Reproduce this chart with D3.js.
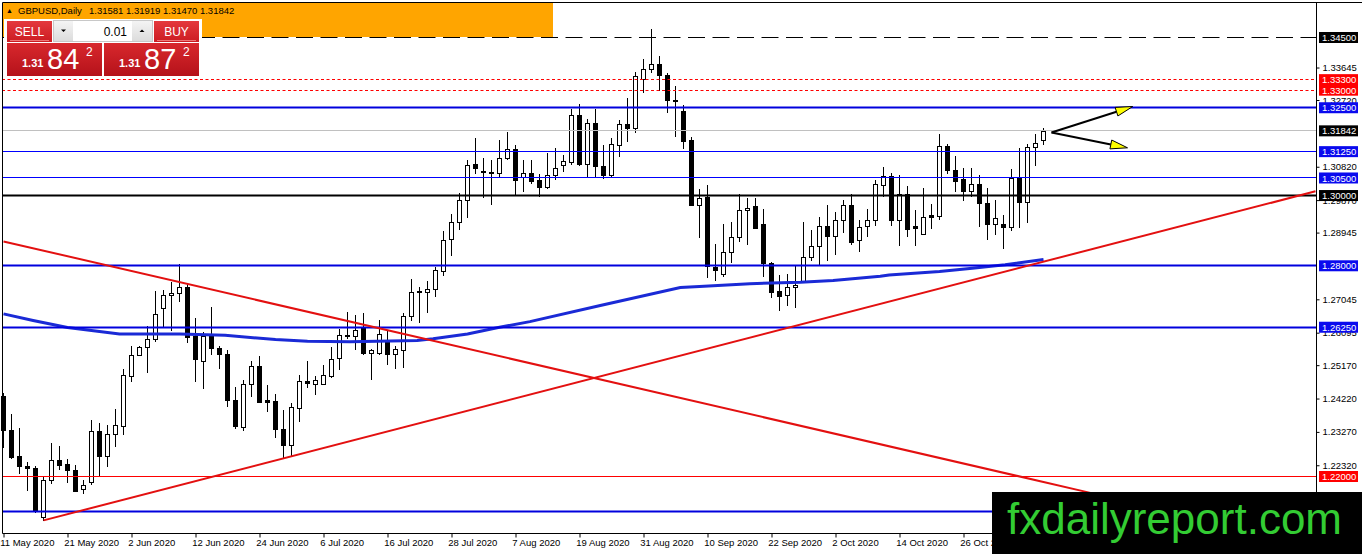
<!DOCTYPE html>
<html>
<head>
<meta charset="utf-8">
<script src="https://cdn.jsdelivr.net/npm/d3@7"></script>
<style>
body { margin: 0; background: #fff; }
#chart { width: 1362px; height: 554px; overflow: hidden; }
text { font-family: "Liberation Sans", Arial, sans-serif; }
</style>
</head>
<body>
<div id="chart"></div>
<script>
var symbol = "GBPUSD,Daily";

// daily OHLC, 11 May 2020 .. 9 Nov 2020
var opens = [1.2430,1.2331,1.2257,1.2231,1.2225,1.2084,1.2191,1.2247,1.2236,1.2219,
    1.2164,1.2184,1.2330,1.2258,1.2320,1.2343,1.2486,1.2547,1.2568,1.2592,
    1.2680,1.2717,1.2722,1.2741,1.2599,1.2528,1.2602,1.2566,1.2549,1.2418,
    1.2341,1.2464,1.2515,1.2417,1.2414,1.2334,1.2291,1.2395,1.2473,1.2464,
    1.2464,1.2486,1.2537,1.2603,1.2599,1.2627,1.2553,1.2551,1.2583,1.2550,
    1.2561,1.2656,1.2729,1.2725,1.2734,1.2784,1.2877,1.2924,1.2988,1.3089,
    1.3071,1.3068,1.3065,1.3106,1.3133,1.3052,1.3065,1.3043,1.3024,1.3059,
    1.3088,1.3095,1.3230,1.3090,1.3207,1.3084,1.3059,1.3144,1.3204,1.3192,
    1.3332,1.3361,1.3375,1.3342,1.3273,1.3242,1.3157,1.2974,1.2997,1.2796,
    1.2777,1.2839,1.2881,1.2959,1.2969,1.2919,1.2807,1.2727,1.2717,1.2741,
    1.2756,1.2825,1.2856,1.2914,1.2884,1.2929,1.2972,1.2872,1.2912,1.2931,
    1.3030,1.3055,1.2931,1.3005,1.2912,1.2891,1.2944,1.2943,1.3140,1.3073,
    1.3048,1.3013,1.3033,1.2979,1.2920,1.2920,1.2910,1.3050,1.2981,1.3138,
    1.31581];
var highs = [1.2437,1.2377,1.2339,1.2241,1.2229,1.2200,1.2296,1.2288,1.2250,1.2233,
    1.2191,1.2362,1.2353,1.2348,1.2393,1.2505,1.2573,1.2573,1.2628,1.2728,
    1.2731,1.2753,1.2806,1.2749,1.2652,1.2611,1.2684,1.2573,1.2559,1.2456,
    1.2475,1.2530,1.2542,1.2461,1.2434,1.2388,1.2409,1.2489,1.2528,1.2485,
    1.2518,1.2568,1.2620,1.2667,1.2661,1.2665,1.2564,1.2646,1.2614,1.2573,
    1.2665,1.2763,1.2741,1.2756,1.2796,1.2899,1.2948,1.3007,1.3100,1.3164,
    1.3107,1.3102,1.3157,1.3180,1.3145,1.3100,1.3100,1.3062,1.3121,1.3136,
    1.3116,1.3245,1.3261,1.3218,1.3245,1.3144,1.3163,1.3214,1.3278,1.3351,
    1.3389,1.3475,1.3396,1.3349,1.3312,1.3259,1.3168,1.3019,1.3031,1.2863,
    1.2918,1.2924,1.3003,1.2993,1.2993,1.2962,1.2810,1.2775,1.2777,1.2798,
    1.2926,1.2902,1.2940,1.2974,1.2953,1.2988,1.3003,1.2929,1.2962,1.3043,
    1.3081,1.3065,1.3059,1.3027,1.2960,1.3021,1.2976,1.3174,1.3147,1.3114,
    1.3078,1.3078,1.3059,1.3021,1.2986,1.2945,1.3076,1.3136,1.3147,1.3174,
    1.31919];
var lows = [1.2284,1.2253,1.2210,1.2162,1.2099,1.2075,1.2181,1.2222,1.2184,1.2158,
    1.2152,1.2179,1.2203,1.2231,1.2286,1.2320,1.2473,1.2545,1.2497,1.2587,
    1.2625,1.2616,1.2701,1.2583,1.2471,1.2453,1.2548,1.2509,1.2400,1.2338,
    1.2331,1.2429,1.2412,1.2386,1.2312,1.2253,1.2260,1.2357,1.2456,1.2434,
    1.2464,1.2484,1.2506,1.2595,1.2564,1.2549,1.2478,1.2549,1.2519,1.2510,
    1.2513,1.2646,1.2640,1.2668,1.2714,1.2775,1.2832,1.2905,1.2939,1.3064,
    1.2997,1.2976,1.3052,1.3103,1.3005,1.3013,1.3036,1.2998,1.3022,1.3046,
    1.3069,1.3090,1.3088,1.3057,1.3052,1.3050,1.3053,1.3112,1.3154,1.3180,
    1.3294,1.3351,1.3301,1.3237,1.3169,1.3135,1.2974,1.2882,1.2768,1.2760,
    1.2770,1.2810,1.2870,1.2863,1.2907,1.2770,1.2711,1.2673,1.2687,1.2682,
    1.2756,1.2817,1.2801,1.2817,1.2834,1.2896,1.2861,1.2842,1.2886,1.2915,
    1.3000,1.2915,1.2860,1.2884,1.2860,1.2891,1.2907,1.2934,1.3065,1.3014,
    1.2988,1.3000,1.2913,1.2877,1.2891,1.2851,1.2903,1.2910,1.2924,1.3086,
    1.31470];
var closes = [1.2331,1.2255,1.2229,1.2224,1.2105,1.2191,1.2247,1.2233,1.2219,1.2158,
    1.2177,1.2330,1.2258,1.2320,1.2348,1.2488,1.2547,1.2568,1.2592,1.2663,
    1.2717,1.2723,1.2741,1.2597,1.2535,1.2599,1.2565,1.2549,1.2418,1.2343,
    1.2464,1.2515,1.2412,1.2411,1.2334,1.2291,1.2397,1.2473,1.2466,1.2475,
    1.2488,1.2535,1.2603,1.2599,1.2618,1.2551,1.2560,1.2606,1.2550,1.2564,
    1.2657,1.2725,1.2725,1.2734,1.2788,1.2874,1.2924,1.2988,1.3088,1.3078,
    1.3067,1.3064,1.3106,1.3133,1.3045,1.3065,1.3040,1.3024,1.3059,1.3079,
    1.3097,1.3230,1.3090,1.3207,1.3084,1.3059,1.3147,1.3204,1.3192,1.3340,
    1.3361,1.3375,1.3342,1.3272,1.3269,1.3155,1.2974,1.2994,1.2798,1.2789,
    1.2839,1.2881,1.2959,1.2965,1.2907,1.2807,1.2725,1.2715,1.2741,1.2744,
    1.2825,1.2856,1.2914,1.2884,1.2929,1.2974,1.2867,1.2910,1.2931,1.3033,
    1.3055,1.2931,1.3005,1.2905,1.2907,1.2940,1.2938,1.3140,1.3073,1.3040,
    1.3012,1.3033,1.2978,1.2918,1.2937,1.2910,1.3050,1.2981,1.3138,1.3150,
    1.31842];

var dateLabels = ["11 May 2020","21 May 2020","2 Jun 2020","12 Jun 2020","24 Jun 2020",
    "6 Jul 2020","16 Jul 2020","28 Jul 2020","7 Aug 2020","19 Aug 2020","31 Aug 2020",
    "10 Sep 2020","22 Sep 2020","2 Oct 2020","14 Oct 2020","26 Oct 2020"];
var barsPerLabel = 8;

var priceTicks = [1.33645,1.32720,1.30820,1.29870,1.28945,
    1.27045,1.26095,1.25170,1.24220,1.23270,1.22320];

// horizontal levels: price, colour, style, price tag shown
var levelPrices = [1.345, 1.333, 1.330, 1.325, 1.31842, 1.3125, 1.305, 1.300, 1.280, 1.2625, 1.220, 1.210];
var levelColors = ["#000","#ff0000","#ff0000","#0000dd","#000","#0000ff","#0000ff","#000","#0000dd","#0000dd","#ff0000","#0000dd"];
var levelStyles = ["dash","dot","dot","wide","bid","thin","thin","wide","wide","wide","thin","wide"];
var levelTagged = [true,true,true,true,true,true,true,true,true,true,true,false];

// moving average, read as [bar, price]
var maPoints = [[0,1.2663],[3.7,1.2644],[8,1.2624],[14.5,1.2606],[22,1.2606],[27.7,1.2602],
    [34,1.2590],[38,1.2585],[43.3,1.2584],[51.7,1.2587],[53.7,1.2592],[58,1.2606],
    [62,1.2625],[65.8,1.2641],[74.6,1.2687],[84.6,1.2738],[87,1.2741],[93.3,1.2749],
    [99.6,1.2753],[103.7,1.2758],[109.6,1.2770],[110.7,1.2774],[117,1.2784],
    [121.1,1.2793],[125.2,1.2803],[130,1.2818]];

var trendDown = [[0,1.28694],[136,1.21527]];
var trendUp = [[5,1.2075],[164,1.3012]];

var arrowFrom = [131,1.31795];
var arrowTips = [[141.15,1.32535],[140.5,1.31359]];

var bid = 1.31842, ask = 1.31872, lot = "0.01";

document.addEventListener("DOMContentLoaded", function() {
    drawChart(document.querySelector("#chart"));
});

function drawChart(wrapper) {
    var width = 1362, height = 554;
    var plotRight = 1316.5, plotBottom = 533.5;

    var x = d3.scaleLinear().domain([0, 164]).range([3.5, 1315.5]);
    var y = d3.scaleLinear().domain([1.22, 1.345]).range([476.5, 37.5]);

    var svg = d3.select(wrapper).append("svg")
        .attr("width", width)
        .attr("height", height);

    svg.append("rect").attr("width", width).attr("height", height).attr("fill", "#fff");

    var plot = svg.append("g");
    plot.append("clipPath").attr("id", "plotclip")
        .append("rect").attr("x", 2).attr("y", 2).attr("width", plotRight - 2).attr("height", plotBottom - 2);

    // candles
    var bars = d3.range(opens.length);
    var candles = plot.append("g").selectAll("g").data(bars).enter().append("g");
    candles.append("line")
        .attr("x1", function(i) { return x(i); })
        .attr("x2", function(i) { return x(i); })
        .attr("y1", function(i) { return Math.round(y(highs[i])); })
        .attr("y2", function(i) { return Math.round(y(lows[i])) + 1; })
        .attr("stroke", "#000");
    candles.append("rect")
        .attr("x", function(i) { return x(i) - 2; })
        .attr("y", function(i) { return Math.round(y(Math.max(opens[i], closes[i]))) + 0.5; })
        .attr("width", 4)
        .attr("height", function(i) {
            return Math.max(0, Math.round(y(Math.min(opens[i], closes[i]))) - Math.round(y(Math.max(opens[i], closes[i]))));
        })
        .attr("fill", function(i) { return closes[i] >= opens[i] ? "#fff" : "#000"; })
        .attr("stroke", "#000");

    // moving average
    var maLine = d3.line()
        .x(function(d) { return x(d[0]); })
        .y(function(d) { return y(d[1]); });
    plot.append("path").datum(maPoints)
        .attr("d", maLine)
        .attr("fill", "none")
        .attr("stroke", "#1a2ad6")
        .attr("stroke-width", 3);

    // horizontal levels
    levelPrices.forEach(function(p, k) {
        var style = levelStyles[k];
        var yy = Math.round(y(p) - 0.5) + 0.5;
        var ln = plot.append("line")
            .attr("x1", 2).attr("x2", plotRight)
            .attr("y1", yy).attr("y2", yy)
            .attr("stroke", style == "bid" ? "#c0c0c0" : levelColors[k])
            .attr("stroke-width", style == "wide" ? 2 : 1);
        if (style == "dash") ln.attr("stroke-dasharray", "17,7.5");
        if (style == "dot") ln.attr("stroke-dasharray", "3,2.5");
    });

    // trend lines
    [trendDown, trendUp].forEach(function(t) {
        plot.append("path").datum(t)
            .attr("d", maLine)
            .attr("clip-path", "url(#plotclip)")
            .attr("fill", "none")
            .attr("stroke", "#e31010")
            .attr("stroke-width", 2);
    });

    // arrows
    var ax0 = x(arrowFrom[0]), ay0 = y(arrowFrom[1]);
    arrowTips.forEach(function(t) {
        var tx = x(t[0]), ty = y(t[1]);
        var dx = tx - ax0, dy = ty - ay0, len = Math.sqrt(dx * dx + dy * dy);
        var ux = dx / len, uy = dy / len;
        var bx = tx - ux * 17, by = ty - uy * 17;
        plot.append("line")
            .attr("x1", ax0).attr("y1", ay0).attr("x2", bx).attr("y2", by)
            .attr("stroke", "#000").attr("stroke-width", 2);
        plot.append("polygon")
            .attr("points", [[tx, ty], [bx - uy * 4.5, by + ux * 4.5], [bx + uy * 4.5, by - ux * 4.5]].join(" "))
            .attr("fill", "#ffff00")
            .attr("stroke", "#000")
            .attr("stroke-width", 1);
    });

    // frame
    svg.append("path")
        .attr("d", "M2.5," + plotBottom + "V2.5H1362M2.5," + plotBottom + "H" + plotRight + "M" + plotRight + ",2.5V" + plotBottom)
        .attr("fill", "none").attr("stroke", "#000");

    // price axis
    var yAxis = d3.axisRight(y)
        .tickValues(priceTicks)
        .tickFormat(d3.format(".5f"))
        .tickSize(3)
        .tickPadding(3);
    var ya = svg.append("g").attr("transform", "translate(" + plotRight + ",0)").call(yAxis);
    ya.select(".domain").remove();
    ya.selectAll("text").attr("font-family", "Liberation Sans, Arial, sans-serif").attr("font-size", "9.5px").attr("fill", "#000");
    ya.selectAll("line").attr("stroke", "#000");

    // time axis
    var xAxis = d3.axisBottom(x)
        .tickValues(dateLabels.map(function(d, k) { return k * barsPerLabel; }))
        .tickFormat(function(d) { return dateLabels[d / barsPerLabel]; })
        .tickSize(4)
        .tickPadding(2);
    var xa = svg.append("g").attr("transform", "translate(0," + plotBottom + ")").call(xAxis);
    xa.select(".domain").remove();
    xa.selectAll("text")
        .attr("text-anchor", "start")
        .attr("dx", "-0.4em")
        .attr("font-family", "Liberation Sans, Arial, sans-serif").attr("font-size", "9.5px").attr("fill", "#000");
    xa.selectAll("line").attr("stroke", "#000");

    // level price tags
    levelPrices.forEach(function(p, k) {
        if (!levelTagged[k]) return;
        var yy = y(p);
        svg.append("rect")
            .attr("x", 1319).attr("y", yy - 5.5).attr("width", 39).attr("height", 11)
            .attr("fill", levelColors[k].indexOf("#0000") == 0 ? "#0a0aee" : levelColors[k]);
        svg.append("text")
            .attr("x", 1322).attr("y", yy + 3.6)
            .attr("font-size", "9.5px").attr("fill", "#fff")
            .text(d3.format(".5f")(p));
    });

    drawHeader(svg);

    // watermark
    svg.append("rect").attr("x", 992).attr("y", 492).attr("width", 370).attr("height", 62).attr("fill", "#000");
    svg.append("text").attr("x", 1007).attr("y", 534)
        .attr("font-size", "44px").attr("fill", "#33cc33")
        .text("fxdailyreport.com");
}

function drawHeader(svg) {
    var fmt = d3.format(".5f");
    var last = opens.length - 1;
    svg.append("rect").attr("x", 3).attr("y", 3).attr("width", 550).attr("height", 34).attr("fill", "#ffa500");
    svg.append("text").attr("x", 6).attr("y", 12.5).attr("font-size", "7px").text("\u25B2");
    svg.append("text").attr("x", 18).attr("y", 14).attr("font-size", "9.5px").text(symbol);
    svg.append("text").attr("x", 89).attr("y", 14).attr("font-size", "9.5px")
        .text([opens[last], highs[last], lows[last], closes[last]].map(fmt).join(" "));

    var defs = svg.append("defs");
    var g1 = defs.append("linearGradient").attr("id", "btnred").attr("x1", 0).attr("y1", 0).attr("x2", 0).attr("y2", 1);
    g1.append("stop").attr("offset", "0").attr("stop-color", "#e4393d");
    g1.append("stop").attr("offset", "1").attr("stop-color", "#cc1c22");
    var g2 = defs.append("linearGradient").attr("id", "pricered").attr("x1", 0).attr("y1", 0).attr("x2", 0).attr("y2", 1);
    g2.append("stop").attr("offset", "0").attr("stop-color", "#d8282d");
    g2.append("stop").attr("offset", "1").attr("stop-color", "#b5121a");
    var g3 = defs.append("linearGradient").attr("id", "spin").attr("x1", 0).attr("y1", 0).attr("x2", 0).attr("y2", 1);
    g3.append("stop").attr("offset", "0").attr("stop-color", "#f4f4f4");
    g3.append("stop").attr("offset", "1").attr("stop-color", "#dcdcdc");

    var panel = svg.append("g");
    panel.append("rect").attr("x", 4).attr("y", 19).attr("width", 198).attr("height", 59).attr("fill", "#fff");

    // sell / buy buttons
    [["SELL", 7], ["BUY", 154]].forEach(function(b) {
        panel.append("rect").attr("x", b[1]).attr("y", 21).attr("width", 45).attr("height", 21).attr("fill", "url(#btnred)");
        panel.append("line").attr("x1", b[1] + 3).attr("x2", b[1] + 42).attr("y1", 40.5).attr("y2", 40.5).attr("stroke", "#ee7777");
        panel.append("text").attr("x", b[1] + 22.5).attr("y", 36).attr("text-anchor", "middle")
            .attr("font-size", "12px").attr("fill", "#fff").text(b[0]);
    });

    // lot field
    panel.append("rect").attr("x", 53.5).attr("y", 20.5).attr("width", 99).attr("height", 21).attr("fill", "#fff").attr("stroke", "#c8c8c8");
    panel.append("rect").attr("x", 54).attr("y", 21).attr("width", 19).attr("height", 20).attr("fill", "url(#spin)");
    panel.append("rect").attr("x", 132).attr("y", 21).attr("width", 20).attr("height", 20).attr("fill", "url(#spin)");
    panel.append("path").attr("d", "M61,29.5h5l-2.5,2.5z").attr("fill", "#000");
    panel.append("path").attr("d", "M139.5,32h5l-2.5,-2.5z").attr("fill", "#000");
    panel.append("text").attr("x", 127).attr("y", 36).attr("text-anchor", "end").attr("font-size", "12px").text(lot);

    // price boxes
    [[bid, 7], [ask, 104]].forEach(function(q) {
        var s = fmt(q[0]);
        var bx = q[1];
        panel.append("rect").attr("x", bx).attr("y", 43).attr("width", 95).attr("height", 33).attr("fill", "url(#pricered)");
        panel.append("text").attr("x", bx + 15).attr("y", 67).attr("font-size", "11px").attr("font-weight", "bold").attr("fill", "#fff").text(s.slice(0, 4));
        panel.append("text").attr("x", bx + 40).attr("y", 68.5).attr("font-size", "29px").attr("fill", "#fff").text(s.slice(4, 6));
        panel.append("text").attr("x", bx + 79).attr("y", 56).attr("font-size", "12px").attr("fill", "#fff").text(s.slice(6));
    });
}
</script>
</body>
</html>
